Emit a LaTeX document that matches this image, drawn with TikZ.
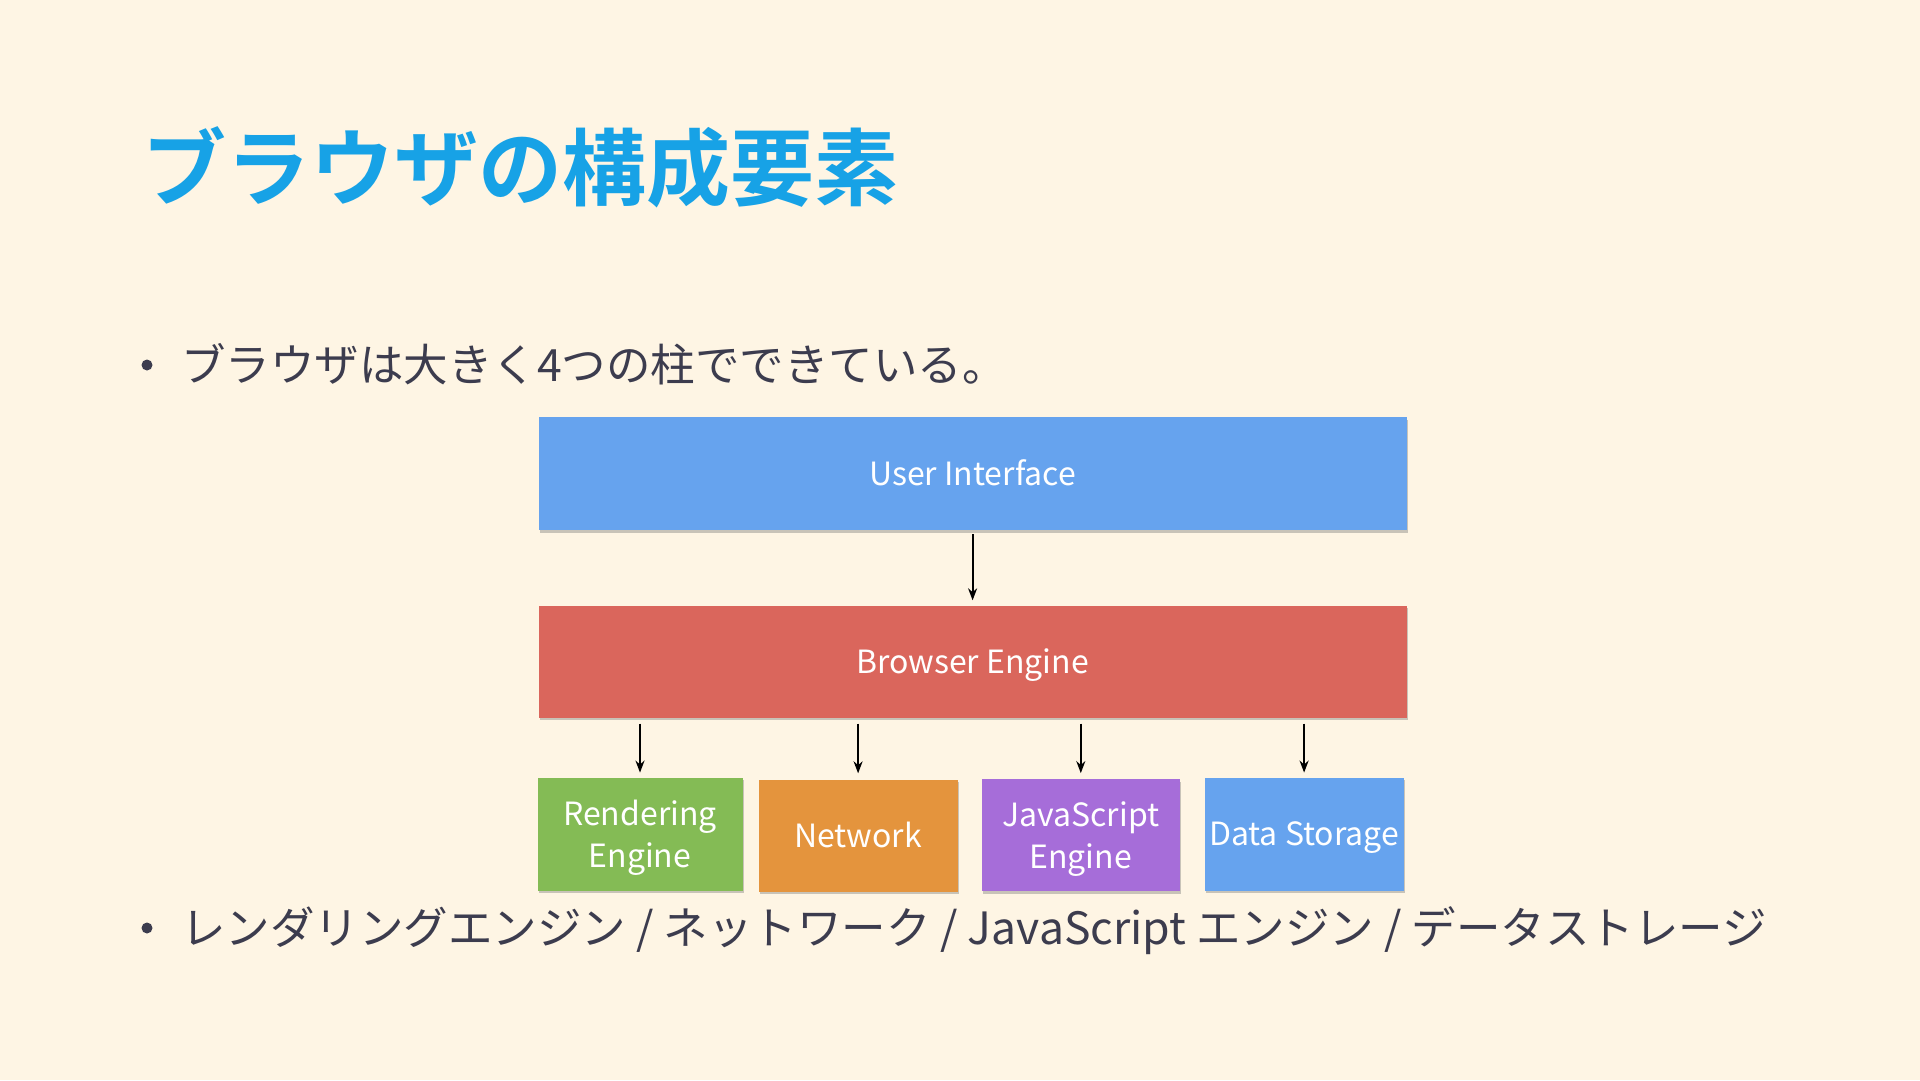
\documentclass[tikz,border=0pt]{standalone}
\usepackage{fontspec}
\setmainfont{Noto Sans CJK JP}
\newfontfamily\jpbold{Noto Sans CJK JP Bold}
\usetikzlibrary{arrows.meta,shadows}
\definecolor{bgcream}{HTML}{FEF5E4}
\definecolor{titleblue}{HTML}{17A2E6}
\definecolor{bodytext}{HTML}{3C3C4E}
\definecolor{uiblue}{HTML}{66A3EE}
\definecolor{bered}{HTML}{DA665C}
\definecolor{rgreen}{HTML}{84BB55}
\definecolor{norange}{HTML}{E4943D}
\definecolor{jspurple}{HTML}{A66DD9}
\newcommand{\twolines}[2]{\raisebox{-3.5pt}[\height][\depth]{\begin{tabular}{@{}c@{}}#1\\#2\end{tabular}}}
\tikzset{
  compbox/.style={rectangle, draw=none, text=white,
    font=\fontsize{32}{42}\selectfont, inner sep=0pt,
    drop shadow={shadow xshift=1pt, shadow yshift=-2.5pt, opacity=0.35, fill=black!60}},
  oneline/.style={text height=23pt, text depth=0pt},
  conn/.style={draw=black, line width=2.2pt, -{Stealth[length=12pt,width=9pt]}},
  bodyline/.style={anchor=base west, text=bodytext, font=\fontsize{44.5}{50}\selectfont, inner sep=0pt},
  bulletdot/.style={circle, fill=bodytext, minimum size=11pt, inner sep=0pt}
}
\begin{document}
\begin{tikzpicture}[x=1pt,y=-1pt]
\fill[bgcream] (0,0) rectangle (1920,1080);
\useasboundingbox (0,0) rectangle (1920,1080);
% title
\node[anchor=base west, text=titleblue, inner sep=0pt, font=\jpbold\fontsize{84}{90}\selectfont] (title) at (142,199) {ブラウザの構成要素};
% bullet 1
\node[bulletdot] (b1) at (147,365) {};
\node[bodyline] (t1) at (181,381) {ブラウザは大きく4つの柱でできている。};
% boxes
\node[compbox, oneline, fill=uiblue, minimum width=868pt, minimum height=113pt] (ui) at (972.6,473.7) {User Interface};
\node[compbox, oneline, fill=bered, minimum width=868pt, minimum height=112pt] (be) at (972.6,661.5) {Browser Engine};
\node[compbox, fill=rgreen, minimum width=205pt, minimum height=113pt] (re) at (640,834.3) {\twolines{Rendering}{Engine}};
\node[compbox, oneline, fill=norange, minimum width=199pt, minimum height=112pt] (nw) at (858.1,835.5) {Network};
\node[compbox, fill=jspurple, minimum width=198pt, minimum height=112pt] (js) at (1080.8,835.3) {\twolines{JavaScript}{Engine}};
\node[compbox, oneline, fill=uiblue, minimum width=199pt, minimum height=113pt] (ds) at (1304.1,834.3) {Data Storage};
% connectors
\draw[conn, shorten <=4pt, shorten >=5pt] (ui.south) -- (be.north);
\draw[conn, shorten <=6pt, shorten >=5pt] (be.south -| re.north) -- (re.north);
\draw[conn, shorten <=6pt, shorten >=6pt] (be.south -| nw.north) -- (nw.north);
\draw[conn, shorten <=6pt, shorten >=6pt] (be.south -| js.north) -- (js.north);
\draw[conn, shorten <=6pt, shorten >=5pt] (be.south -| ds.north) -- (ds.north);
% bullet 2
\node[bulletdot] (b2) at (147,928) {};
\node[bodyline] (t2) at (181,944) {レンダリングエンジン / ネットワーク / JavaScript エンジン / データストレージ};
\end{tikzpicture}
\end{document}
